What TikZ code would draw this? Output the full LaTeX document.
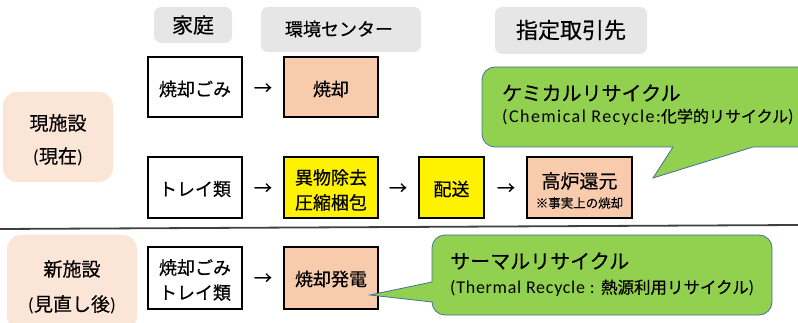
\documentclass[tikz,border=0pt]{standalone}
\usepackage{fontspec}
\setmainfont{Noto Sans CJK JP}[FakeBold=0.4]
\newfontfamily\latfont{Carlito}
\newfontfamily\latspaced{Carlito}[LetterSpace=8]
\newfontfamily\latthermal{Carlito}[LetterSpace=4]
\definecolor{peach}{HTML}{F8CBAD}
\definecolor{lightpeach}{HTML}{FBE5D6}
\definecolor{hdrgray}{HTML}{E7E6E6}
\definecolor{calgreen}{HTML}{92D050}
\definecolor{calblue}{HTML}{41719C}
\definecolor{sepgray}{HTML}{404040}
\tikzset{
  hdr/.style={fill=hdrgray, draw=none, rounded corners=7pt, inner sep=0pt},
  flowbox/.style={draw=black, line width=2.2pt, inner sep=0pt},
  sidebox/.style={fill=lightpeach, draw=none, rounded corners=14pt, inner sep=0pt},
  callout/.style={fill=calgreen, draw=calblue, line width=0.8pt},
  txt/.style={inner sep=0pt, font=\fontsize{18}{25}\selectfont, align=center},
  arr/.style={inner sep=0pt, font=\fontsize{18}{18}\selectfont},
}
\begin{document}
\begin{tikzpicture}[x=1pt,y=-1pt]
\useasboundingbox (0,0) rectangle (798,323);
% headers
\fill[hdr] (154,7) rectangle (232,43);
\node[txt, font=\fontsize{21}{21}\selectfont] (h1) at (193,25) {家庭};
\fill[hdr] (261,7) rectangle (421,52);
\node[txt, font=\fontsize{18}{18}\selectfont] (h2) at (339,29) {環境センター};
\fill[hdr] (495,7) rectangle (647,54);
\node[txt, font=\fontsize{22}{22}\selectfont] (h3) at (571,30) {指定取引先};
% side labels
\fill[sidebox] (3,92) rectangle (113,182);
\node[txt, font=\fontsize{19}{33}\selectfont] (s1) at (58,140) {現施設\\{\latfont(}現在{\latfont)}};
\fill[sidebox] (7,235) rectangle (137,330);
\node[txt, font=\fontsize{19}{35}\selectfont] (s2) at (72,287) {新施設\\{\latfont(}見直し後{\latfont)}};
% separator
\draw[sepgray, line width=1.8pt] (0,229) -- (798,225);
% row 1
\draw[flowbox] (148,57) rectangle (242,117);
\node[txt] (a1) at (195,89) {焼却ごみ};
\draw[flowbox, fill=peach] (284,57) rectangle (378,117);
\node[txt] (b1) at (331,89) {焼却};
\node[arr] (r1) at (263,89) {→};
% row 2
\draw[flowbox] (148,157) rectangle (242,218);
\node[txt] (a2) at (195,189) {トレイ類};
\draw[flowbox, fill=yellow] (284,157) rectangle (378,218);
\node[txt] (b2) at (331,190) {異物除去\\圧縮梱包};
\draw[flowbox, fill=yellow] (419,157) rectangle (484,218);
\node[txt] (c2) at (451.5,189) {配送};
\draw[flowbox, fill=peach] (527,157) rectangle (632,218);
\node[txt, font=\fontsize{19}{19}\selectfont] (d2) at (579.5,181) {高炉還元};
\node[txt, font=\fontsize{12.5}{12.5}\selectfont] (d2n) at (579.5,203) {※事実上の焼却};
\node[arr] (r2) at (263,189) {→};
\node[arr] (r3) at (398,189) {→};
\node[arr] (r4) at (506,189) {→};
% row 3
\draw[flowbox] (148,247) rectangle (242,309);
\node[txt] (a3) at (195,280) {焼却ごみ\\トレイ類};
\draw[flowbox, fill=peach] (284,247) rectangle (378,309);
\node[txt] (b3) at (331,279) {焼却発電};
\node[arr] (r5) at (263,279) {→};
% chemical callout
\draw[callout] (653,178) -- (673,147) [rounded corners=13pt] -- (482,147) -- (482,67) -- (812,67) -- (812,147) [sharp corners] -- (753,147) -- cycle;
\node[inner sep=0pt, anchor=west, font=\fontsize{20}{20}\selectfont] (cm1) at (502,93) {ケミカルリサイクル};
\node[inner sep=0pt, anchor=west, font=\fontsize{16}{16}\selectfont] (cm2) at (502,117) {{\latspaced\fontsize{18}{18}\selectfont (Chemical Recycle:}化学的リサイクル{\latfont\fontsize{18}{18}\selectfont )}};
% thermal callout
\draw[callout] (370,295) -- (432,302) [rounded corners=13pt] -- (432,315) -- (772,315) -- (772,235) -- (432,235) [sharp corners] -- (432,282) -- cycle;
\node[inner sep=0pt, anchor=west, font=\fontsize{20}{20}\selectfont] (th1) at (450,261) {サーマルリサイクル};
\node[inner sep=0pt, anchor=west, font=\fontsize{16.5}{16.5}\selectfont] (th2) at (450,288) {{\latthermal\fontsize{18}{18}\selectfont (Thermal Recycle : }熱源利用リサイクル{\latfont\fontsize{18}{18}\selectfont )}};
\end{tikzpicture}
\end{document}
